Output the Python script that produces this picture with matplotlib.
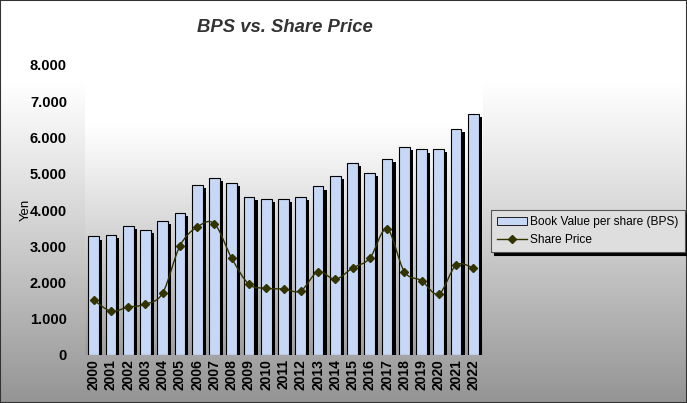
import numpy as np
import matplotlib
matplotlib.use('Agg')
import matplotlib.pyplot as plt
import matplotlib.patheffects as pe
from matplotlib.path import Path
from matplotlib.patches import PathPatch, Rectangle
from matplotlib.lines import Line2D
from matplotlib.ticker import FuncFormatter

years = [str(y) for y in range(2000, 2023)]
bps = [3270, 3310, 3560, 3450, 3700, 3920, 4690, 4890, 4750, 4360, 4310, 4310,
       4360, 4650, 4940, 5300, 5020, 5410, 5740, 5670, 5690, 6240, 6660]
price = [1520, 1210, 1320, 1400, 1710, 3010, 3530, 3620, 2670, 1950, 1840, 1820,
         1770, 2300, 2090, 2400, 2670, 3480, 2300, 2050, 1680, 2480, 2400]
yticks = [0, 1000, 2000, 3000, 4000, 5000, 6000, 7000, 8000]

plt.rcParams['font.family'] = 'Liberation Sans'


def smooth_path(xs, ys, t=1/6):
	# catmull-rom style bezier through the data points (like excel's smoothed line)
	xs = np.asarray(xs, float)
	ys = np.asarray(ys, float)
	verts = [(xs[0], ys[0])]
	codes = [Path.MOVETO]
	n = len(xs)
	for i in range(n - 1):
		p0 = (xs[max(i-1, 0)], ys[max(i-1, 0)])
		p1 = (xs[i], ys[i])
		p2 = (xs[i+1], ys[i+1])
		p3 = (xs[min(i+2, n-1)], ys[min(i+2, n-1)])
		c1 = (p1[0] + (p2[0]-p0[0])*t, p1[1] + (p2[1]-p0[1])*t)
		c2 = (p2[0] - (p3[0]-p1[0])*t, p2[1] - (p3[1]-p1[1])*t)
		verts += [c1, c2, p2]
		codes += [Path.CURVE4]*3
	return Path(verts, codes)


def gradient(ax, transform, start=0.35, dark=0.42):
	# row 0 = top (white), last row = bottom (gray)
	g = np.linspace(0, 1, 256).reshape(-1, 1)
	v = np.where(g < start, 1.0, 1.0 - dark*((g-start)/(1-start))**1.1)
	img = np.dstack([v, v, v])
	ax.imshow(img, extent=[0, 1, 0, 1], origin='upper', transform=transform, aspect='auto',
		zorder=-10, interpolation='bilinear')


fig = plt.figure(figsize=(6.87, 4.03), dpi=100)

bg = fig.add_axes([0, 0, 1, 1], zorder=-5)
gradient(bg, bg.transAxes, start=0.2, dark=0.42)
bg.set_xlim(0, 1)
bg.set_ylim(0, 1)
bg.axis('off')

ax = fig.add_axes([85/687, 48/403, 397/687, 290/403])
ax.patch.set_alpha(0)
gradient(ax, ax.transAxes, start=0.2, dark=0.38)

x = np.arange(len(years))
bars = ax.bar(x, bps, width=0.62, color='#c6d8f6', edgecolor='black', linewidth=0.8, zorder=2)
for b in bars:
	b.set_path_effects([pe.SimplePatchShadow(offset=(2.3, -2.3), shadow_rgbFace='black', alpha=1.0), pe.Normal()])

ax.add_patch(PathPatch(smooth_path(x, price), facecolor='none', edgecolor='#333300', linewidth=1.0, zorder=3))
ax.plot(x, price, linestyle='none', marker='D', markersize=4.5, color='#333300', zorder=4)

ax.set_xlim(-0.5, len(years) - 0.5)
ax.set_ylim(0, 8000)
ax.set_yticks(yticks)
ax.yaxis.set_major_formatter(FuncFormatter(lambda v, p: '{:,.0f}'.format(v).replace(',', '.')))
ax.set_xticks(x)
ax.set_xticklabels(years, rotation=90)
for s in ax.spines.values():
	s.set_visible(False)
ax.tick_params(length=0, pad=4)
for lab in ax.get_yticklabels():
	lab.set_fontweight('bold')
	lab.set_fontsize(10.5)
	lab.set_color('black')
for lab in ax.get_xticklabels():
	lab.set_fontweight('bold')
	lab.set_fontsize(10)
ax.tick_params(axis='y', pad=13)
ax.tick_params(axis='x', pad=3)
ax.set_ylabel('Yen', fontsize=9.5)
ax.yaxis.set_label_coords(-0.135, 0.5)

fig.text(285/687, 1 - 27/403, 'BPS vs. Share Price', ha='center', va='center',
	fontsize=13.3, fontweight='bold', fontstyle='italic', color='#333333')

handles = [Rectangle((0, 0), 1, 1, facecolor='#c6d8f6', edgecolor='black', linewidth=0.6),
	Line2D([], [], color='#333300', marker='D', markersize=4, linewidth=1.0)]
leg = fig.legend(handles, ['Book Value per share (BPS)', 'Share Price'],
	loc='upper left', bbox_to_anchor=(491/687, 1 - 210/403), fontsize=8.6,
	frameon=True, fancybox=False, shadow={'color': 'black', 'alpha': 1.0, 'ox': 2, 'oy': -2},
	borderaxespad=0, handlelength=2.5, handletextpad=0.3, borderpad=0.5, labelspacing=0.5)
leg.get_frame().set_facecolor('#dedede')
leg.get_frame().set_edgecolor('#555555')
leg.get_frame().set_linewidth(0.8)

fig.patches.append(Rectangle((0, 0), 1, 1, transform=fig.transFigure, fill=False,
	edgecolor='#333333', linewidth=1.5))

fig.savefig('out.png', dpi=100)
